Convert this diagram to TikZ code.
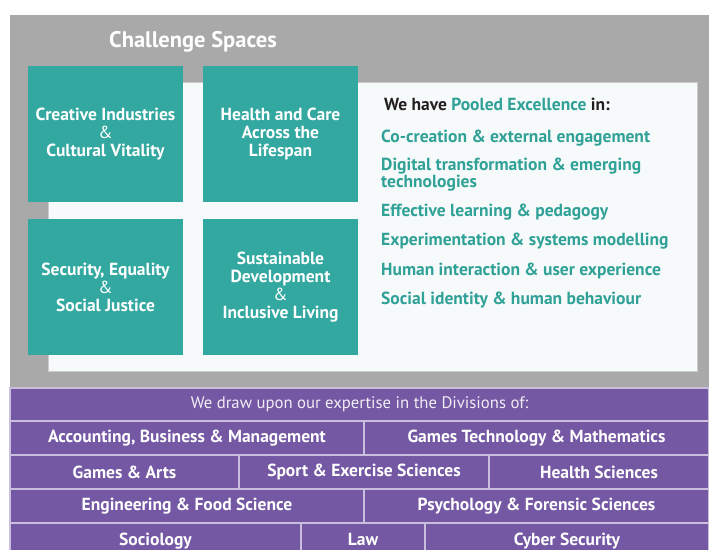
\documentclass[tikz,border=0pt]{standalone}
\usepackage{fontspec}
\setmainfont{PT Sans}
\usetikzlibrary{positioning}
\definecolor{csgrey}{HTML}{A9A9A9}
\definecolor{csteal}{HTML}{33A8A0}
\definecolor{cstealtext}{HTML}{2FA196}
\definecolor{cspaper}{HTML}{F7FAFB}
\definecolor{cspurple}{HTML}{7458A3}
\definecolor{csrule}{HTML}{C9BFDD}
\definecolor{csdark}{HTML}{231F20}

\tikzset{
  spacebox/.style={fill=csteal, text=white, minimum width=155pt, minimum height=136pt,
    inner sep=0pt, outer sep=0pt, align=center, font=\bfseries\fontsize{17.5}{18}\selectfont},
  pooleditem/.style={anchor=west, text=cstealtext, align=left, inner sep=0pt,
    font=\bfseries\fontsize{17.5}{15.5}\selectfont},
  divcell/.style={fill=cspurple, draw=csrule, line width=1.2pt, text=white, minimum height=34pt,
    inner sep=0pt, outer sep=0pt, font=\bfseries\fontsize{17.5}{17.5}\selectfont},
  lastrow/.style={minimum height=28pt, text height=16pt, text depth=0pt},
}

\begin{document}
\begin{tikzpicture}[x=1pt, y=-1pt]
\useasboundingbox (0,0) rectangle (709,549);
\clip (0,0) rectangle (709,549);
%%%%%%%%%%%%%%
\fill[csgrey] (10,15) rectangle (709,388);
\draw[fill=cspaper, draw=gray!40] (48,82) rectangle (697,371);
\node[text=white, font=\bfseries\fontsize{22.5}{22.5}\selectfont] (title) at (193,42) {Challenge Spaces};
%%%%%%%%%%%%%%
\node[spacebox, anchor=north west] (creative) at (28,66) {Creative Industries\\{\mdseries\&}\\Cultural Vitality};
\node[spacebox, right=20pt of creative] (health) {Health and Care\\Across the\\Lifespan};
\node[spacebox, below=17pt of creative] (security) {Security, Equality\\{\mdseries\&}\\Social Justice};
\node[spacebox, right=20pt of security] (sustain) {Sustainable\\Development\\{\mdseries\&}\\Inclusive Living};
%%%%%%%%%%%%%%
\node[pooleditem, text=csdark] (pooled) at (384,104) {We have \textcolor{cstealtext}{Pooled Excellence} in:};
\node[pooleditem] (cocreation) at (381,138) {Co-creation \& external engagement};
\node[pooleditem] (digital) at (381,175) {Digital transformation \& emerging\\technologies};
\node[pooleditem] (learning) at (381,212) {Effective learning \& pedagogy};
\node[pooleditem] (experiment) at (381,241) {Experimentation \& systems modelling};
\node[pooleditem] (human) at (381,271) {Human interaction \& user experience};
\node[pooleditem] (identity) at (381,300) {Social identity \& human behaviour};
%%%%%%%%%%%%%%
\node[divcell, anchor=north west, minimum width=699pt, minimum height=33pt, text=white!90!cspurple,
  font=\fontsize{16.7}{16.7}\selectfont] (divisions) at (10,388) {We draw upon our expertise in the Divisions of:};
%%%%%%%%%%%%%%
\node[divcell, anchor=north west, minimum width=354pt] (accounting) at (divisions.south west) {Accounting, Business \& Management};
\node[divcell, right=0pt of accounting, minimum width=345pt] (gamestech) {Games Technology \& Mathematics};
%%%%%%%%%%%%%%
\node[divcell, anchor=north west, minimum width=229pt] (gamesarts) at (accounting.south west) {Games \& Arts};
\node[divcell, right=0pt of gamesarts, minimum width=250pt] (sport) {Sport \& Exercise Sciences};
\node[divcell, right=0pt of sport, minimum width=220pt] (healthsci) {Health Sciences};
%%%%%%%%%%%%%%
\node[divcell, anchor=north west, minimum width=354pt] (engineering) at (gamesarts.south west) {Engineering \& Food Science};
\node[divcell, right=0pt of engineering, minimum width=345pt] (psychology) {Psychology \& Forensic Sciences};
%%%%%%%%%%%%%%
\node[divcell, lastrow, anchor=north west, minimum width=291pt] (sociology) at (engineering.south west) {Sociology};
\node[divcell, lastrow, right=0pt of sociology, minimum width=124pt] (law) {Law};
\node[divcell, lastrow, right=0pt of law, minimum width=284pt] (cyber) {Cyber Security};
\end{tikzpicture}
\end{document}
